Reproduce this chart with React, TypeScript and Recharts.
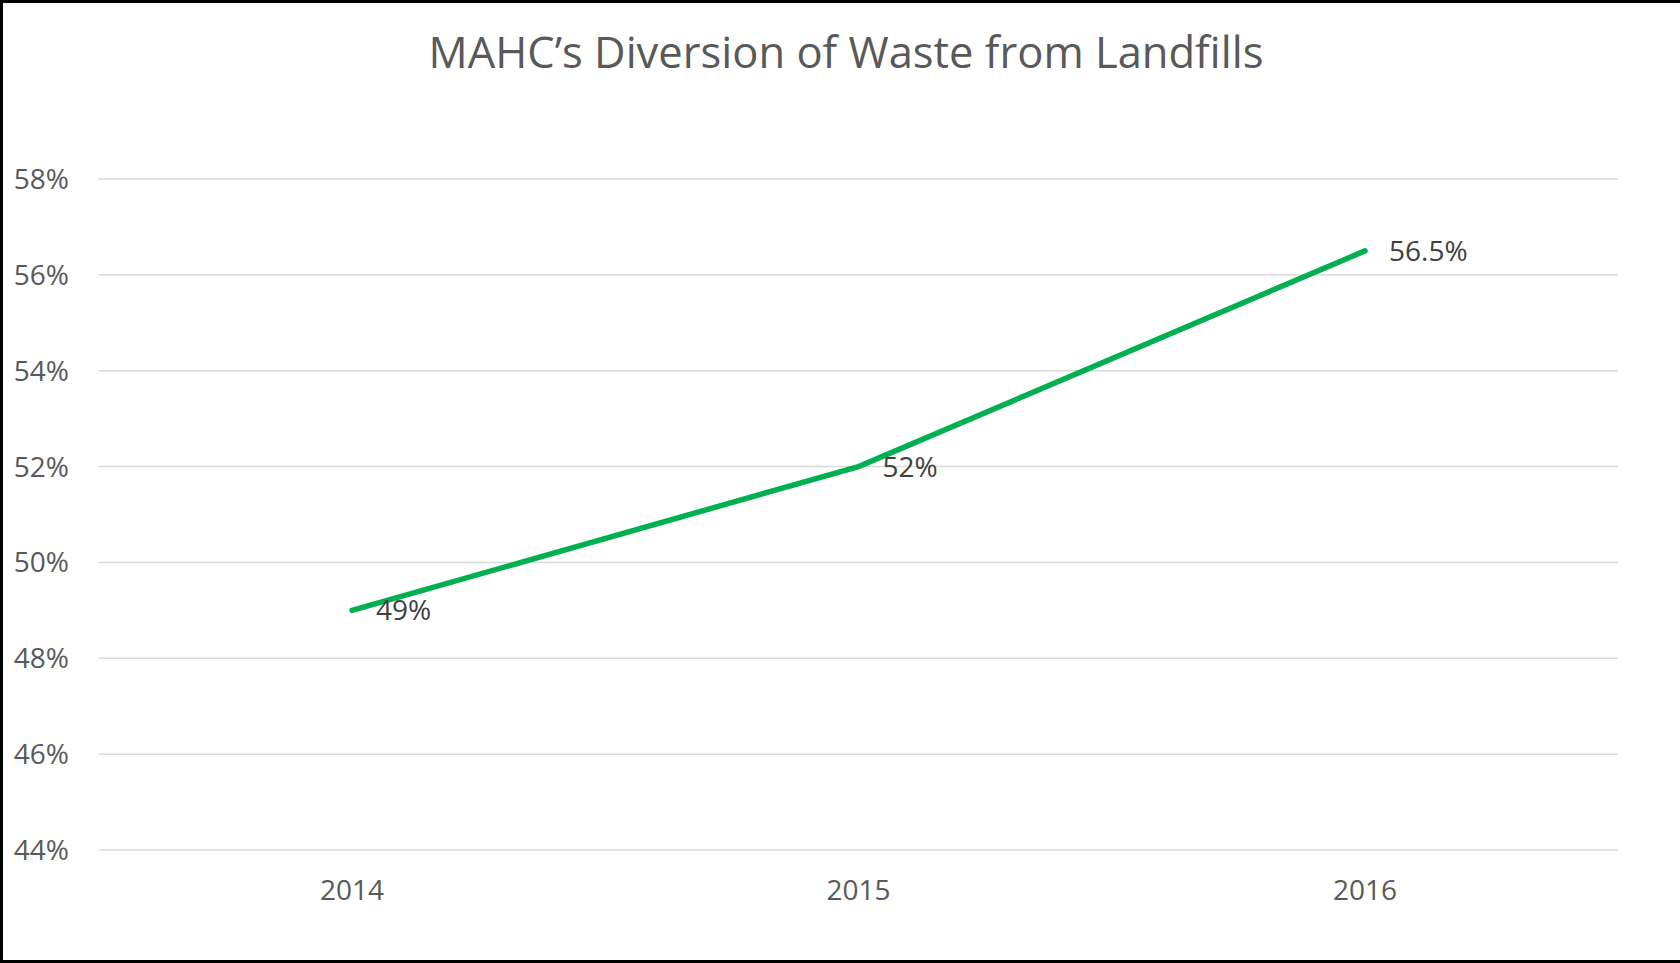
import React from "react";
import { LineChart, Line, XAxis, YAxis, CartesianGrid, LabelList } from "recharts";

const years = ["2014", "2015", "2016"];
const diversion = [49, 52, 56.5];
const yTicks = [44, 46, 48, 50, 52, 54, 56, 58];

const data = years.map((year, i) => ({ year, value: diversion[i] }));

const font = "'Open Sans', sans-serif";

const App: React.FC = () => {
  return (
    <div style={{ position: "absolute", left: 0, top: 0, width: 1680, height: 963, background: "#fff", fontFamily: font }}>
      <LineChart width={1680} height={963} data={data} margin={{ top: 179, right: 62, bottom: 53, left: 0 }}>
        <CartesianGrid vertical={false} stroke="#d9d9d9" strokeWidth={1.5} />
        <XAxis
          dataKey="year"
          axisLine={false}
          tickLine={false}
          tickSize={0}
          tickMargin={30}
          height={60}
          padding={{ left: 253, right: 253 }}
          tick={{ fill: "#595959", fontSize: 28, fontFamily: font }}
        />
        <YAxis
          domain={[44, 58]}
          ticks={yTicks}
          tickFormatter={(v: number) => `${v}%`}
          axisLine={false}
          tickLine={false}
          tickSize={0}
          tickMargin={30}
          width={99}
          tick={{ fill: "#595959", fontSize: 28, fontFamily: font }}
        />
        <Line
          type="linear"
          dataKey="value"
          stroke="#00B050"
          strokeWidth={5.5}
          strokeLinecap="round"
          dot={false}
          activeDot={false}
          isAnimationActive={false}
        >
          <LabelList
            dataKey="value"
            position="right"
            offset={24}
            formatter={(v: number) => `${v}%`}
            style={{ fill: "#404040", fontSize: 28, fontFamily: font }}
          />
        </Line>
      </LineChart>
      <svg width={1680} height={963} style={{ position: "absolute", left: 0, top: 0, pointerEvents: "none" }}>
        <text x={846} y={68} textAnchor="middle" fill="#595959" fontSize={43.5} fontFamily={font}>
          MAHC’s Diversion of Waste from Landfills
        </text>
      </svg>
      <div
        style={{
          position: "absolute",
          left: 0,
          top: 0,
          width: 1680,
          height: 963,
          boxSizing: "border-box",
          borderLeft: "3px solid #000",
          borderTop: "3px solid #000",
          borderBottom: "3px solid #000",
          pointerEvents: "none",
        }}
      />
    </div>
  );
};

export default App;
